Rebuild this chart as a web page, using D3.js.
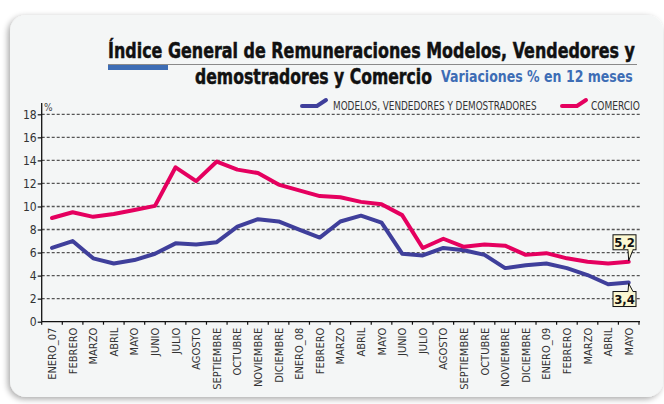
<!DOCTYPE html>
<html><head><meta charset="utf-8">
<script src="https://cdn.jsdelivr.net/npm/d3@7"></script>
<style>
body{margin:0;background:#fff;}
svg{display:block;}
text{font-family:"Liberation Sans Narrow","DejaVu Sans Condensed","Arial Narrow",sans-serif;font-stretch:condensed;}
</style></head><body>
<svg id="c" width="664" height="404"></svg>
<script>
const months = ["ENERO_07","FEBRERO","MARZO","ABRIL","MAYO","JUNIO","JULIO","AGOSTO","SEPTIEMBRE","OCTUBRE","NOVIEMBRE","DICIEMBRE",
 "ENERO_08","FEBRERO","MARZO","ABRIL","MAYO","JUNIO","JULIO","AGOSTO","SEPTIEMBRE","OCTUBRE","NOVIEMBRE","DICIEMBRE",
 "ENERO_09","FEBRERO","MARZO","ABRIL","MAYO"];
const modelos = [6.4,7.0,5.5,5.05,5.35,5.9,6.8,6.7,6.9,8.25,8.9,8.7,8.0,7.3,8.7,9.2,8.6,5.9,5.75,6.4,6.2,5.8,4.65,4.9,5.05,4.65,4.05,3.25,3.4];
const comercio = [9.0,9.5,9.1,9.35,9.7,10.05,13.4,12.2,13.9,13.2,12.9,11.9,11.4,10.9,10.8,10.4,10.2,9.25,6.4,7.2,6.5,6.7,6.6,5.8,5.95,5.5,5.2,5.05,5.2];
const yTicks = [0,2,4,6,8,10,12,14,16,18];
const seriesNames = ["MODELOS, VENDEDORES Y DEMOSTRADORES","COMERCIO"];
const endLabels = ["3,4","5,2"];

const svg = d3.select("#c");
const defs = svg.append("defs");
const f = defs.append("filter").attr("id","sh").attr("x","-5%").attr("y","-5%").attr("width","110%").attr("height","110%");
f.append("feGaussianBlur").attr("in","SourceAlpha").attr("stdDeviation",3);
f.append("feOffset").attr("dx",-2).attr("dy",2).attr("result","b");
f.append("feComponentTransfer").append("feFuncA").attr("type","linear").attr("slope",0.35);
const fm = f.append("feMerge"); fm.append("feMergeNode"); fm.append("feMergeNode").attr("in","SourceGraphic");

svg.append("rect").attr("x",10).attr("y",15).attr("width",653).attr("height",382).attr("rx",16)
  .attr("fill","#f4f6f6").attr("filter","url(#sh)");

// fit text horizontally into a width by scaling
function fitText(str,x0,yb,w,size,weight,fill,stroke){
  const t = svg.append("text").attr("x",0).attr("y",0).attr("font-size",size).attr("font-weight",weight)
    .attr("fill",fill).text(str);
  if(stroke) t.attr("stroke",fill).attr("stroke-width",stroke);
  const n = t.node().getComputedTextLength();
  const k = w / n;
  t.attr("transform",`translate(${x0},${yb}) scale(${k},1)`);
  return t;
}

// Title
fitText("Índice General de Remuneraciones Modelos, Vendedores y",108,58,527,22,"bold","#111",0.5);
svg.append("line").attr("x1",108).attr("x2",637).attr("y1",64.5).attr("y2",64.5).attr("stroke","#8a8a8a").attr("stroke-width",1.2);
svg.append("rect").attr("x",108).attr("y",65).attr("width",60).attr("height",5).attr("fill","#3d6db5");
fitText("demostradores y Comercio",195,84,237,22,"bold","#111",0.5);
fitText("Variaciones % en 12 meses",441,82,192,15,"bold","#3d6db5",0);

const x0 = 41.7, x1 = 639, y0 = 321.7, y18 = 114.3;
const x = d3.scaleBand().domain(d3.range(months.length)).range([x0,x1]);
const y = d3.scaleLinear().domain([0,18]).range([y0,y18]);
const cx = i => x(i) + x.bandwidth()/2;

// grid
svg.append("g").selectAll("line").data(yTicks.filter(d=>d>0)).join("line")
  .attr("x1",x0).attr("x2",641).attr("y1",d=>y(d)).attr("y2",d=>y(d))
  .attr("stroke","#555").attr("stroke-width",1.3).attr("stroke-dasharray","3,2");

// y axis
const ya = svg.append("g").attr("transform",`translate(${x0},0)`)
  .call(d3.axisLeft(y).tickValues(yTicks).tickSize(4).tickFormat(d3.format("d")));
ya.select(".domain").remove();
ya.append("line").attr("x1",0).attr("x2",0).attr("y1",y0).attr("y2",103).attr("stroke","#111").attr("stroke-width",1.3);
ya.selectAll(".tick line").attr("stroke","#111").attr("stroke-width",1.2);
ya.selectAll(".tick text").attr("font-size",12).attr("fill","#333").attr("x",-5).style("font-family",'"Liberation Sans Narrow","DejaVu Sans Condensed",sans-serif');
svg.append("text").attr("x",44).attr("y",111).attr("font-size",10).attr("fill","#444").text("%");

// x axis
const xa = svg.append("g").attr("transform",`translate(0,${y0})`);
xa.append("line").attr("x1",x0).attr("x2",x1+1).attr("stroke","#111").attr("stroke-width",1.3);
xa.selectAll("line.tk").data(d3.range(months.length+1)).join("line").attr("class","tk")
  .attr("x1",i=>x0+i*x.bandwidth()).attr("x2",i=>x0+i*x.bandwidth()).attr("y1",0).attr("y2",3)
  .attr("stroke","#111").attr("stroke-width",1.2);
xa.selectAll("text").data(months).join("text")
  .attr("transform",(d,i)=>`translate(${cx(i)+4},6) rotate(-90)`)
  .attr("text-anchor","end").attr("font-size",11).attr("fill","#333").text(d=>d);

// lines
const colors = ["#3f3f9b","#e5005f"];
const line = d3.line().x((d,i)=>cx(i)).y(d=>y(d));
[modelos,comercio].forEach((s,k)=>{
  svg.append("path").datum(s).attr("d",line).attr("fill","none").attr("stroke",colors[k])
    .attr("stroke-width",4).attr("stroke-linejoin","round").attr("stroke-linecap","round");
});

// legend
const leg = [{x:302,tx:333,w:204,name:seriesNames[0],c:colors[0]},{x:562,tx:591,w:49,name:seriesNames[1],c:colors[1]}];
leg.forEach(l=>{
  svg.append("path").attr("d",`M${l.x},106 L${l.x+15},106 L${l.x+24},100`).attr("fill","none")
    .attr("stroke",l.c).attr("stroke-width",4).attr("stroke-linecap","round");
  fitText(l.name,l.tx,110,l.w,11.5,"normal","#333",0);
});

// end labels
const last = months.length-1;
function callout(val,label,above){
  const px = cx(last), py = y(val);
  const bw=23, bh=15;
  const bx = 613, by = above ? py-27 : py+9;
  const g = svg.append("g");
  let ptr;
  if(above) ptr = `M${bx+15},${by+bh} L${px},${py-1} L${bx+20},${by+bh}`;
  else ptr = `M${bx+15},${by} L${px},${py+1} L${bx+20},${by}`;
  g.append("rect").attr("x",bx).attr("y",by).attr("width",bw).attr("height",bh).attr("fill","#fbf8d2").attr("stroke","#111").attr("stroke-width",1);
  g.append("path").attr("d",ptr).attr("fill","#fbf8d2").attr("stroke","#111").attr("stroke-width",1);
  g.append("line").attr("x1",bx+15.5).attr("x2",bx+19.5).attr("y1",above?by+bh:by).attr("y2",above?by+bh:by).attr("stroke","#fbf8d2").attr("stroke-width",1.5);
  g.append("text").attr("x",bx+bw/2).attr("y",by+bh-3).attr("text-anchor","middle").attr("font-size",13).attr("font-weight","bold").attr("fill","#111").text(label);
}
callout(comercio[last],endLabels[1],true);
callout(modelos[last],endLabels[0],false);
</script></body></html>
